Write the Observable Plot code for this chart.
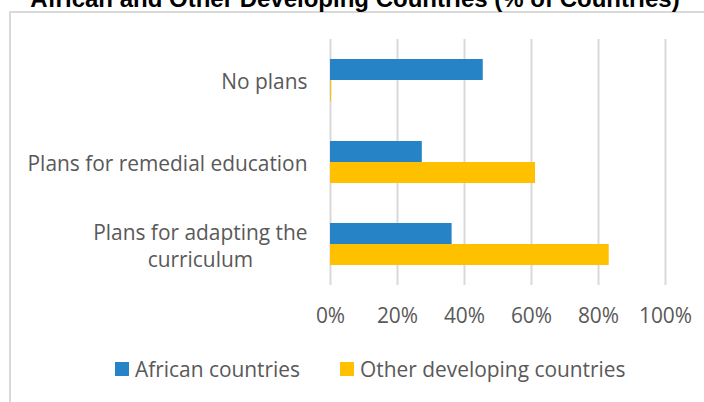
<!DOCTYPE html>
<html><head><meta charset="utf-8">
<script src="https://cdn.jsdelivr.net/npm/d3@7"></script>
<script src="https://cdn.jsdelivr.net/npm/@observablehq/plot@0.6"></script>
<style>
html,body{margin:0;padding:0;background:#fff;width:704px;height:402px;overflow:hidden;position:relative;font-family:"Open Sans",sans-serif;}
#frame{position:absolute;left:9px;top:11px;width:800px;height:500px;border:2px solid #d9d9d9;box-sizing:border-box;}
#title{position:absolute;left:0;width:710px;top:-13px;text-align:center;font:bold 24px "Liberation Sans",Arial,sans-serif;line-height:24px;color:#000;white-space:nowrap;}
#chart{position:absolute;left:0;top:0;}
#legend{position:absolute;left:115px;top:352px;}
.lg-swatches{font-family:"Open Sans",sans-serif !important;font-size:20.9px !important;color:#595959;margin:0 !important;}
.lg-swatch{margin-right:40px !important;}
.lg-swatch > svg{margin-right:6px !important;}
</style></head><body>
<div id="frame"></div>
<div id="title">African and Other Developing Countries (% of Countries)</div>
<div id="chart"></div>
<div id="legend"></div>
<script>
const categories = ["No plans", "Plans for remedial education", "Plans for adapting the curriculum"];
const categoryLabels = ["No plans", "Plans for remedial education", "Plans for adapting the\ncurriculum"];
const series = ["African countries", "Other developing countries"];
const african = [45.6, 27.4, 36.3];
const other = [0.3, 61.2, 83.2];
const xTicks = [0, 20, 40, 60, 80, 100];
const colors = ["#2683C6", "#FFC000"];

const data = categories.flatMap((c, i) => [
  {category: c, series: series[0], value: african[i]},
  {category: c, series: series[1], value: other[i]}
]);

const chart = Plot.plot({
  width: 704, height: 335,
  marginTop: 39, marginBottom: 50, marginLeft: 330, marginRight: 39,
  style: {fontFamily: "'Open Sans', sans-serif", fontSize: "20.9px", color: "#595959", background: "transparent", overflow: "visible"},
  x: {domain: [0, 100]},
  y: {domain: series, axis: null, paddingInner: 0, paddingOuter: 0.9},
  fy: {domain: categories, padding: 0},
  color: {domain: series, range: colors},
  marks: [
    Plot.gridX(xTicks, {stroke: "#d9d9d9", strokeOpacity: 1, strokeWidth: 2}),
    Plot.barX(data, {x: "value", y: "series", fy: "category", fill: "series"}),
    Plot.axisX(xTicks, {tickSize: 0, tickPadding: 23, tickFormat: d => d + "%", label: null, fill: "#595959"}),
    Plot.axisFy({anchor: "left", tickSize: 0, tickPadding: 23, tickFormat: d => categoryLabels[categories.indexOf(d)], label: null, lineHeight: 1.32, fill: "#595959"})
  ]
});
document.getElementById("chart").appendChild(chart);

// center the lines of multi-line category labels within their right-aligned block
chart.querySelectorAll('g[aria-label="fy-axis tick label"] text').forEach(t => {
  const spans = t.querySelectorAll("tspan");
  if (spans.length > 1) {
    let w = 0;
    spans.forEach(s => { w = Math.max(w, s.getComputedTextLength()); });
    t.setAttribute("text-anchor", "middle");
    spans.forEach(s => s.setAttribute("x", -w / 2));
  }
});

const legend = chart.legend("color", {swatchWidth: 14, swatchHeight: 14, className: "lg"});
document.getElementById("legend").appendChild(legend);
</script>
</body></html>
